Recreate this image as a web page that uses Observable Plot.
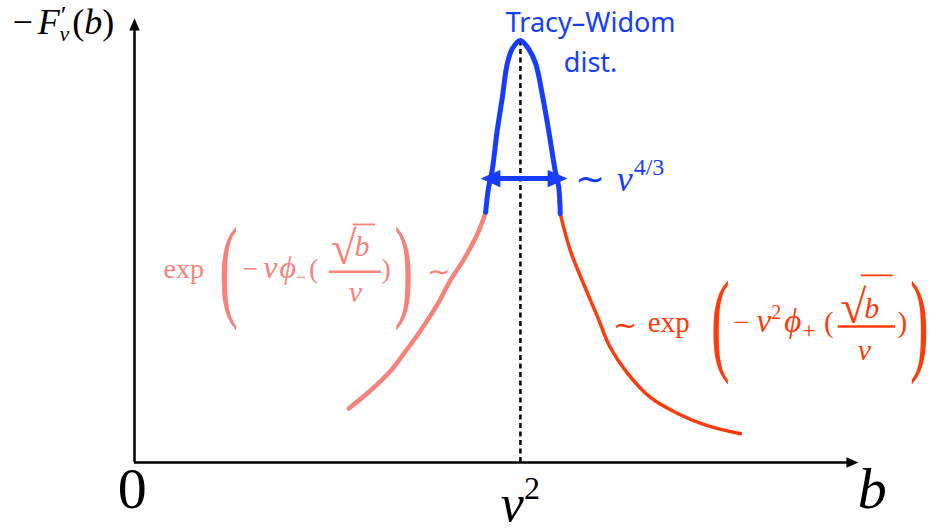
<!DOCTYPE html>
<html><head><meta charset="utf-8">
<script src="https://cdn.jsdelivr.net/npm/d3@7"></script>
<script src="https://cdn.jsdelivr.net/npm/@observablehq/plot@0.6"></script>
<style>body{margin:0;background:#fff}</style>
</head><body><div id="chart"></div>
<script>
// ---- curve data (abstract units: b on x, −F'ν(b) on y) ----
const leftB  = [2.96, 3.26, 3.54, 3.72, 3.95, 4.19, 4.36, 4.54, 4.74, 4.85];
const leftF  = [1.20, 1.60, 2.04, 2.42, 2.93, 3.53, 4.04, 4.49, 5.09, 5.56];
const peakB  = [4.85, 4.89, 4.94, 5.01, 5.08, 5.15, 5.22, 5.33, 5.44, 5.54, 5.64, 5.72, 5.81, 5.86, 5.88];
const peakF  = [5.56, 6.11, 6.49, 7.38, 8.11, 8.87, 9.20, 9.38, 9.20, 8.87, 8.11, 7.38, 6.49, 6.11, 5.53];
const rightB = [5.88, 6.02, 6.20, 6.40, 6.57, 6.81, 7.13, 7.50, 7.91, 8.37];
const rightF = [5.53, 4.71, 3.98, 3.22, 2.56, 1.98, 1.44, 1.09, 0.82, 0.64];
const nuSquared = 5.33;       // position of ν²
const peakTop = 9.38;         // top of the dashed line
const twSpan = [4.78, 5.98];  // width ~ ν^{4/3}
const twLevel = 6.31;
const axisEnd = {x: 10, y: 9.87};

// ---- colours ----
const BLUE = "#163cff", PINK = "#f8827a", RED = "#ff3a0c";
const serif = "'Liberation Serif','Times New Roman',serif";

const toPts = (xs, ys) => xs.map((x, i) => ({x, y: ys[i]}));
const leftPts = toPts(leftB, leftF), peakPts = toPts(peakB, peakF), rightPts = toPts(rightB, rightF);

// arrowhead symbols with the tip at the data point
const head = (dir) => ({draw(ctx, size) {
  const r = Math.sqrt(size / Math.PI), L = 1.8 * r, W = 0.78 * r;
  const pts = dir === "right" ? [[0,0],[-L,-W],[-L,W]]
            : dir === "left" ? [[0,0],[L,-W],[L,W]]
            : [[0,0],[-W,L],[W,L]];
  ctx.moveTo(...pts[0]); ctx.lineTo(...pts[1]); ctx.lineTo(...pts[2]); ctx.closePath();
}});

// ---- annotations ----
const texts = [
  // axis labels
  {t: "−F′ν(b)", x: -1.685, y: 9.53, size: 36, anchor: "start", line: "bottom", fill: "black"},
  {t: "0", x: -0.03, y: -1.0, size: 58, anchor: "middle", line: "bottom", fill: "black"},
  {t: "b", x: 9.99, y: -1.0, size: 58, anchor: "start", line: "bottom", fill: "black", italic: true},
  {t: "ν²", x: 5.33, y: -1.31, size: 52, anchor: "middle", line: "bottom", fill: "black"},
  // blue
  {t: "∼ ν⁴ᐟ³", x: 6.08, y: 6.04, size: 36, anchor: "start", line: "bottom", fill: BLUE},
  // left formula (pink)
  {t: "exp", x: 0.40, y: 4.11, size: 28, anchor: "start", line: "bottom", fill: PINK},
  {t: "−νϕ₋(", x: 1.49, y: 4.11, size: 28, anchor: "start", line: "bottom", fill: PINK},
  {t: "√", x: 2.71, y: 4.42, size: 47, anchor: "start", line: "bottom", fill: PINK},
  {t: "b", x: 3.04, y: 4.60, size: 30, anchor: "start", line: "bottom", fill: PINK, italic: true},
  {t: "ν", x: 3.05, y: 3.56, size: 30, anchor: "middle", line: "bottom", fill: PINK, italic: true},
  {t: ")", x: 3.41, y: 4.11, size: 28, anchor: "start", line: "bottom", fill: PINK},
  {t: "∼", x: 4.20, y: 4.24, size: 28, anchor: "middle", line: "middle", fill: PINK},
  // right formula (red)
  {t: "∼", x: 6.77, y: 3.04, size: 29, anchor: "middle", line: "middle", fill: RED},
  {t: "exp", x: 7.09, y: 2.89, size: 29, anchor: "start", line: "bottom", fill: RED},
  {t: "−ν²ϕ₊(", x: 8.27, y: 2.89, size: 29, anchor: "start", line: "bottom", fill: RED},
  {t: "√", x: 9.75, y: 3.09, size: 47, anchor: "start", line: "bottom", fill: RED},
  {t: "b", x: 10.08, y: 3.22, size: 30, anchor: "start", line: "bottom", fill: RED, italic: true},
  {t: "ν", x: 10.08, y: 2.27, size: 30, anchor: "middle", line: "bottom", fill: RED, italic: true},
  {t: ")", x: 10.54, y: 2.89, size: 29, anchor: "start", line: "bottom", fill: RED}
];
const bigParens = [
  {t: "(", x: 1.30, y: 4.30, fill: PINK}, {t: ")", x: 3.72, y: 4.30, fill: PINK},
  {t: "(", x: 8.09, y: 3.10, fill: RED},  {t: ")", x: 10.84, y: 3.10, fill: RED}
];
const rules = [ // fraction bars and radical overlines
  {x1: 2.69, x2: 3.41, y: 4.24, c: PINK, w: 2.5}, {x1: 3.02, x2: 3.33, y: 5.29, c: PINK, w: 1.8},
  {x1: 9.72, x2: 10.51, y: 3.02, c: RED, w: 2.5}, {x1: 10.04, x2: 10.48, y: 4.16, c: RED, w: 1.8}
];
const blueLabels = [
  {t: "Tracy–Widom", x: 6.30, y: 9.56}, {t: "dist.", x: 6.30, y: 8.67}
];

const textMarks = texts.map(d => Plot.text([d], {
  x: "x", y: "y", text: "t", fontSize: d.size, textAnchor: d.anchor, lineAnchor: d.line,
  fill: d.fill, fontFamily: serif, fontStyle: d.italic ? "italic" : "normal"
}));

const plot = Plot.plot({
  width: 931, height: 531,
  marginLeft: 134, marginRight: 73, marginTop: 12, marginBottom: 69,
  x: {domain: [0, 10], axis: null},
  y: {domain: [0, 10], axis: null},
  style: {background: "white", overflow: "visible"},
  marks: [
    // axes
    Plot.ruleX([0], {y1: 0, y2: axisEnd.y - 0.15, stroke: "black", strokeWidth: 2.5}),
    Plot.ruleY([0], {x1: 0, x2: axisEnd.x - 0.1, stroke: "black", strokeWidth: 2.5}),
    Plot.dot([{x: 0, y: axisEnd.y}], {x: "x", y: "y", r: 6.7, symbol: head("up"), fill: "black", stroke: "none"}),
    Plot.dot([{x: axisEnd.x, y: 0}], {x: "x", y: "y", r: 6.7, symbol: head("right"), fill: "black", stroke: "none"}),
    // dashed line at ν²
    Plot.ruleX([nuSquared], {y1: 0, y2: peakTop, stroke: "black", strokeWidth: 2.5, strokeDasharray: "5,3.5"}),
    // curve
    Plot.line(leftPts, {x: "x", y: "y", stroke: PINK, strokeWidth: 4.5, curve: "catmull-rom"}),
    Plot.line(rightPts, {x: "x", y: "y", stroke: RED, strokeWidth: 3.5, curve: "catmull-rom"}),
    Plot.line(peakPts, {x: "x", y: "y", stroke: BLUE, strokeWidth: 5, curve: "catmull-rom", strokeLinejoin: "round"}),
    // width arrow
    Plot.ruleY([twLevel], {x1: twSpan[0] + 0.12, x2: twSpan[1] - 0.12, stroke: BLUE, strokeWidth: 5}),
    Plot.dot([{x: twSpan[0], y: twLevel}], {x: "x", y: "y", r: 11, symbol: head("left"), fill: BLUE, stroke: "none"}),
    Plot.dot([{x: twSpan[1], y: twLevel}], {x: "x", y: "y", r: 11, symbol: head("right"), fill: BLUE, stroke: "none"}),
    // formula rules
    ...rules.map(d => Plot.ruleY([d], {x1: "x1", x2: "x2", y: "y", stroke: d.c, strokeWidth: d.w})),
    // texts
    ...textMarks,
    Plot.text(bigParens, {x: "x", y: "y", text: "t", fill: "fill", fontSize: 56, fontFamily: serif,
      textAnchor: "middle", lineAnchor: "middle"}),
    Plot.text(blueLabels, {x: "x", y: "y", text: "t", fill: BLUE, fontSize: 27,
      fontFamily: "'Noto Sans',sans-serif", textAnchor: "middle", lineAnchor: "bottom"})
  ]
});

// rich math typesetting (sub/superscripts, italics)
const I = (s, extra = "") => `<tspan font-style="italic" ${extra}>${s}</tspan>`;
const rich = new Map([
  ["−F′ν(b)", `−<tspan font-style="italic" dx="5">F</tspan><tspan font-size="26" dx="1" dy="-10">′</tspan><tspan font-style="italic" font-size="22" dx="-7" dy="17">ν</tspan><tspan dx="3" dy="-7">(</tspan>${I("b")})`],
  ["ν²", `${I("ν")}<tspan font-size="32" dy="-22">2</tspan>`],
  ["∼ ν⁴ᐟ³", `∼<tspan dx="12" font-style="italic">ν</tspan><tspan font-size="24" dx="1" dy="-16">4/3</tspan>`],
  ["−νϕ₋(", `−${I("ν", 'dx="5" font-size="32"')}${I("ϕ", 'dx="2" font-size="32"')}<tspan font-size="18" dy="5">−</tspan><tspan dx="3" dy="-5">(</tspan>`],
  ["−ν²ϕ₊(", `−${I("ν", 'dx="7" font-size="33"')}<tspan font-size="20" dy="-13">2</tspan>${I("ϕ", 'dx="3" font-size="33" dy="13"')}<tspan font-size="24" dx="1" dy="6">+</tspan><tspan dx="8" dy="-6">(</tspan>`]
]);
plot.querySelectorAll("text").forEach(el => {
  const r = rich.get(el.textContent);
  if (r) el.innerHTML = r;
});
// stretch the big delimiters vertically
plot.querySelectorAll('g[font-size="56"] text').forEach(el => {
  const tr = el.getAttribute("transform");
  if (tr) el.setAttribute("transform", tr + " scale(1,2.05)");
  else {
    const x = el.getAttribute("x") || 0, y = el.getAttribute("y") || 0;
    el.removeAttribute("x"); el.removeAttribute("y");
    el.setAttribute("transform", `translate(${x},${y}) scale(1,2.05)`);
  }
});
document.getElementById("chart").append(plot);
</script>
</body></html>
